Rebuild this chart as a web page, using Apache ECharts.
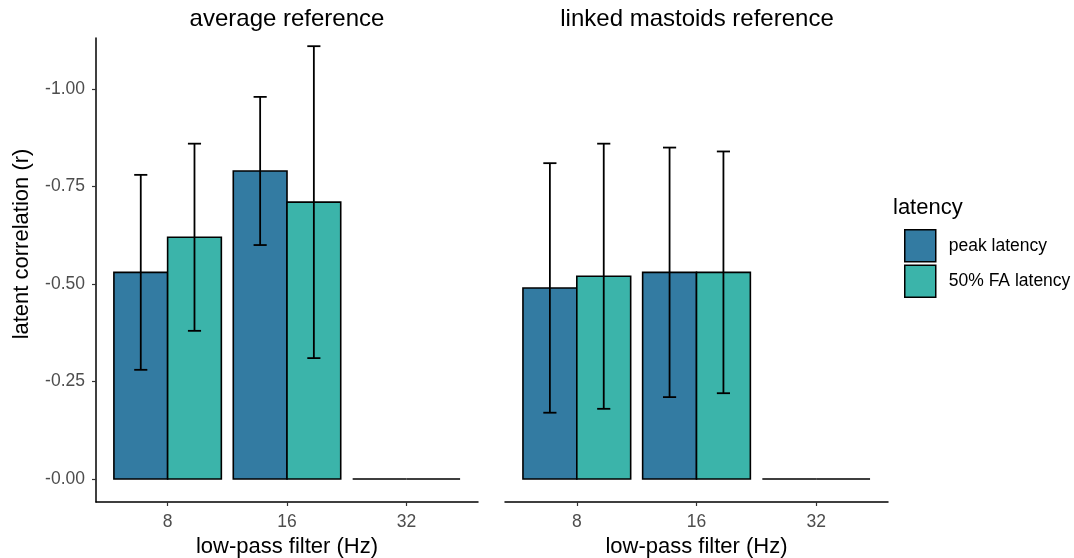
<!DOCTYPE html>
<html style="height: 100%">
<head>
    <meta charset="utf-8">
    <script src="https://cdn.jsdelivr.net/npm/echarts@6.0.0/dist/echarts.min.js"></script>
</head>
<body style="height: 100%;margin: 0;background: #fff">
<div id="chart" style="width: 1074px;height: 558px;"></div>
<script type="text/javascript">
// filter categories (x axis)
var filters = ['8', '16', '32'];
// bar heights (latent correlation)
var avgPeak = [-0.53, -0.79, 0];
var avgFA = [-0.62, -0.71, 0];
var lmPeak = [-0.49, -0.53, 0];
var lmFA = [-0.52, -0.53, 0];
// error bar ends: lower / upper
var avgPeakLo = [-0.28, -0.60, null];
var avgPeakHi = [-0.78, -0.98, null];
var avgFALo = [-0.38, -0.31, null];
var avgFAHi = [-0.86, -1.11, null];
var lmPeakLo = [-0.17, -0.21, null];
var lmPeakHi = [-0.81, -0.85, null];
var lmFALo = [-0.18, -0.22, null];
var lmFAHi = [-0.86, -0.84, null];
// y tick labels
var yTicks = [0, -0.25, -0.5, -0.75, -1];
var yTickLabels = ['-0.00', '-0.25', '-0.50', '-0.75', '-1.00'];

var FONT = "'Liberation Sans', Arial, sans-serif";
var peakColor = '#337ba2';
var faColor = '#3bb4aa';

function buildData(vals, lo, hi, offset) {
    return filters.map(function (f, i) {
        return [i + 1 + offset, vals[i], lo[i] == null ? '-' : lo[i], hi[i] == null ? '-' : hi[i]];
    });
}

function renderBar(params, api) {
    var x = api.value(0), y = api.value(1);
    var base = api.coord([x, 0]);
    var top = api.coord([x, y]);
    var w = api.size([0.45, 0])[0];
    var color = api.visual('color');
    var children = [{
        type: 'rect',
        shape: {x: base[0] - w / 2, y: Math.min(base[1], top[1]), width: w, height: Math.abs(base[1] - top[1])},
        style: {fill: color, stroke: '#000', lineWidth: 1.6}
    }];
    var lo = api.value(2), hi = api.value(3);
    if (!isNaN(lo) && !isNaN(hi)) {
        var pLo = api.coord([x, lo]), pHi = api.coord([x, hi]);
        var cap = api.size([0.055, 0])[0];
        var es = {stroke: '#000', lineWidth: 1.8};
        children.push({type: 'line', shape: {x1: pLo[0], y1: pLo[1], x2: pHi[0], y2: pHi[1]}, style: es, z2: 10});
        children.push({type: 'line', shape: {x1: pLo[0] - cap, y1: pLo[1], x2: pLo[0] + cap, y2: pLo[1]}, style: es, z2: 10});
        children.push({type: 'line', shape: {x1: pHi[0] - cap, y1: pHi[1], x2: pHi[0] + cap, y2: pHi[1]}, style: es, z2: 10});
    }
    return {type: 'group', children: children};
}

function xAxisFor(idx) {
    return {
        type: 'value', gridIndex: idx, min: 0.4, max: 3.6,
        name: 'low-pass filter (Hz)', nameLocation: 'middle', nameGap: 33,
        nameTextStyle: {fontSize: 22, color: '#000', fontFamily: FONT},
        axisLine: {show: true, onZero: false, lineStyle: {color: '#000', width: 1.5}},
        axisTick: {show: true, customValues: [1, 2, 3], length: 4, lineStyle: {color: '#333', width: 1.2}},
        axisLabel: {customValues: [1, 2, 3], fontSize: 17.5, color: '#4d4d4d', fontFamily: FONT, margin: 11,
            formatter: function (v) { return filters[Math.round(v) - 1]; }},
        splitLine: {show: false}
    };
}

function yAxisFor(idx) {
    var ax = {
        type: 'value', gridIndex: idx, min: -1.131, max: 0.059, inverse: true,
        splitLine: {show: false},
        axisLine: {show: idx === 0, onZero: false, lineStyle: {color: '#000', width: 1.5}},
        axisTick: {show: idx === 0, customValues: yTicks, length: 4, lineStyle: {color: '#333', width: 1.2}},
        axisLabel: {show: idx === 0, customValues: yTicks, fontSize: 17.5, color: '#4d4d4d', fontFamily: FONT, margin: 11,
            formatter: function (v) { return yTickLabels[yTicks.indexOf(v)]; }}
    };
    if (idx === 0) {
        ax.name = 'latent correlation (r)';
        ax.nameLocation = 'middle';
        ax.nameGap = 63;
        // shifted up a bit, as in the original
        ax.nameTextStyle = {fontSize: 22, color: '#000', fontFamily: FONT, padding: [0, 0, 0, 52]};
    }
    return ax;
}

var chart = echarts.init(document.getElementById('chart'));
var option = {
    animation: false,
    backgroundColor: '#fff',
    title: [
        {text: 'average reference', left: 287, top: 7, textAlign: 'center', padding: 0,
            textStyle: {fontSize: 24, fontWeight: 'normal', color: '#000', fontFamily: FONT}},
        {text: 'linked mastoids reference', left: 697, top: 7, textAlign: 'center', padding: 0,
            textStyle: {fontSize: 24, fontWeight: 'normal', color: '#000', fontFamily: FONT}},
        {text: 'latency', left: 893, top: 197, padding: 0,
            textStyle: {fontSize: 22, fontWeight: 'normal', color: '#000', fontFamily: FONT}}
    ],
    legend: {
        orient: 'vertical', left: 904, top: 229, padding: 0, itemWidth: 31, itemHeight: 32, itemGap: 2,
        icon: 'rect',
        textStyle: {fontSize: 17.5, color: '#000', fontFamily: FONT, padding: [0, 0, 0, 8]},
        data: [
            {name: 'peak latency', itemStyle: {color: peakColor, borderColor: '#000', borderWidth: 1.5}},
            {name: '50% FA latency', itemStyle: {color: faColor, borderColor: '#000', borderWidth: 1.5}}
        ],
        selectedMode: false
    },
    grid: [
        {left: 96, top: 38, width: 382, height: 464, outerBoundsMode: 'none'},
        {left: 505, top: 38, width: 383, height: 464, outerBoundsMode: 'none'}
    ],
    xAxis: [xAxisFor(0), xAxisFor(1)],
    yAxis: [yAxisFor(0), yAxisFor(1)],
    series: [
        {name: 'peak latency', type: 'custom', xAxisIndex: 0, yAxisIndex: 0, itemStyle: {color: peakColor},
            renderItem: renderBar, encode: {x: 0, y: 1}, data: buildData(avgPeak, avgPeakLo, avgPeakHi, -0.225)},
        {name: '50% FA latency', type: 'custom', xAxisIndex: 0, yAxisIndex: 0, itemStyle: {color: faColor},
            renderItem: renderBar, encode: {x: 0, y: 1}, data: buildData(avgFA, avgFALo, avgFAHi, 0.225)},
        {name: 'peak latency', type: 'custom', xAxisIndex: 1, yAxisIndex: 1, itemStyle: {color: peakColor},
            renderItem: renderBar, encode: {x: 0, y: 1}, data: buildData(lmPeak, lmPeakLo, lmPeakHi, -0.225)},
        {name: '50% FA latency', type: 'custom', xAxisIndex: 1, yAxisIndex: 1, itemStyle: {color: faColor},
            renderItem: renderBar, encode: {x: 0, y: 1}, data: buildData(lmFA, lmFALo, lmFAHi, 0.225)}
    ]
};
chart.setOption(option);
</script>
</body>
</html>
